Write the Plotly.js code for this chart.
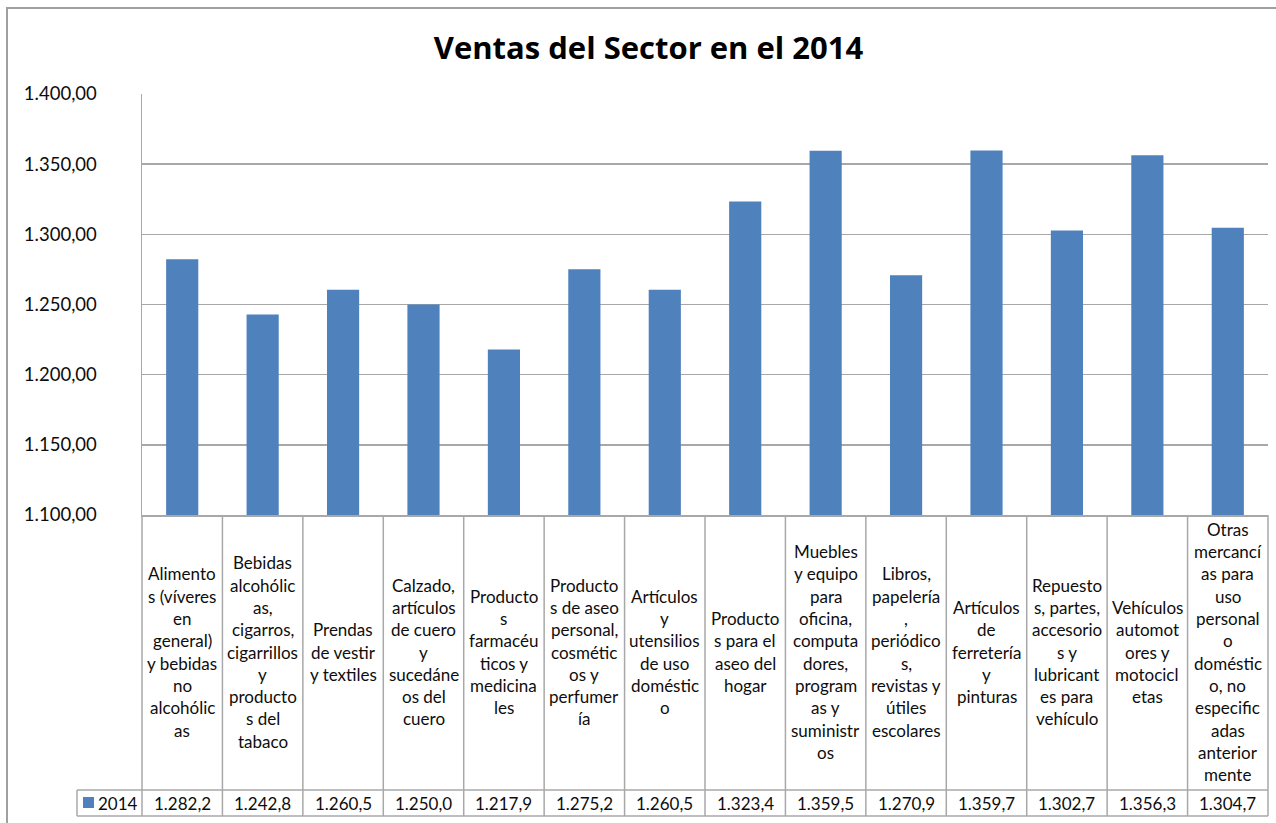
<!DOCTYPE html>
<html>
<head>
<meta charset="utf-8">
<script src="https://cdn.plot.ly/plotly-3.0.1.min.js"></script>
<style>
  html, body { margin: 0; padding: 0; background: #ffffff; }
  #chart { width: 1276px; height: 823px; }
</style>
</head>
<body>
<div id="chart"></div>
<script>
// ---------------- DATA ----------------
const categories = [
  "Alimentos (víveres en general) y bebidas no alcohólicas",
  "Bebidas alcohólicas, cigarros, cigarrillos y productos del tabaco",
  "Prendas de vestir y textiles",
  "Calzado, artículos de cuero y sucedáneos del cuero",
  "Productos farmacéuticos y medicinales",
  "Productos de aseo personal, cosméticos y perfumería",
  "Artículos y utensilios de uso doméstico",
  "Productos para el aseo del hogar",
  "Muebles y equipo para oficina, computadores, programas y suministros",
  "Libros, papelería, periódicos, revistas y útiles escolares",
  "Artículos de ferretería y pinturas",
  "Repuestos, partes, accesorios y lubricantes para vehículo",
  "Vehículos automotores y motocicletas",
  "Otras mercancías para uso personal o doméstico, no especificadas anteriormente"
];

// category labels as wrapped in the table cells
const categoryLabelLines = [
  ["Alimento", "s (víveres", "en", "general)", "y bebidas", "no", "alcohólic", "as"],
  ["Bebidas", "alcohólic", "as,", "cigarros,", "cigarrillos", "y", "producto", "s del", "tabaco"],
  ["Prendas", "de vestir", "y textiles"],
  ["Calzado,", "artículos", "de cuero", "y", "sucedáne", "os del", "cuero"],
  ["Producto", "s", "farmacéu", "ticos y", "medicina", "les"],
  ["Producto", "s de aseo", "personal,", "cosmétic", "os y", "perfumer", "ía"],
  ["Artículos", "y", "utensilios", "de uso", "doméstic", "o"],
  ["Producto", "s para el", "aseo del", "hogar"],
  ["Muebles", "y equipo", "para", "oficina,", "computa", "dores,", "program", "as y", "suministr", "os"],
  ["Libros,", "papelería", ",", "periódico", "s,", "revistas y", "útiles", "escolares"],
  ["Artículos", "de", "ferretería", "y", "pinturas"],
  ["Repuesto", "s, partes,", "accesorio", "s y", "lubricant", "es para", "vehículo"],
  ["Vehículos", "automot", "ores y", "motocicl", "etas"],
  ["Otras", "mercancí", "as para", "uso", "personal", "o", "doméstic", "o, no", "especific", "adas", "anterior", "mente"]
];

const seriesName = "2014";
const values2014 = [1282.2, 1242.8, 1260.5, 1250.0, 1217.9, 1275.2, 1260.5, 1323.4, 1359.5, 1270.9, 1359.7, 1302.7, 1356.3, 1304.7];

const yTickVals = [1100, 1150, 1200, 1250, 1300, 1350, 1400];
const chartTitle = "Ventas del Sector en el 2014";

// ---------------- LAYOUT GEOMETRY ----------------
const W = 1276, H = 823;
const M = { l: 142, r: 8, t: 94, b: 308 };
const plotW = W - M.l - M.r;
const plotH = H - M.t - M.b;
const px2x = px => (px - M.l) / plotW;
const px2y = py => 1 - (py - M.t) / plotH;

const FONT = "Lato, 'Open Sans', 'Liberation Sans', sans-serif";
const TITLE_FONT = "'Open Sans', Lato, sans-serif";
const TXT = "#0d0d0d";
const LINE = "#a8a8a8";
const BAR = "#4f81bd";
const CELL_SIZE = 17;

function fmtES(v, dec) {
  const parts = v.toFixed(dec).split(".");
  parts[0] = parts[0].replace(/\B(?=(\d{3})+(?!\d))/g, ".");
  return parts.join(",");
}

const N = categories.length;
const tableTopPx = 515, rowTopPx = 790, rowBotPx = 816, keyLeftPx = 77;
const cellCenterPx = 652, lineStepPx = 22.3, rowCenterPx = 803;

const shapes = [];
const annotations = [];

// outer chart frame
shapes.push({ type: "rect", xref: "paper", yref: "paper",
  x0: px2x(7), x1: px2x(1300), y0: px2y(840), y1: px2y(8),
  line: { color: "#a0a0a0", width: 2 }, fillcolor: "rgba(0,0,0,0)" });

// table vertical lines at category boundaries
for (let i = 0; i <= N; i++) {
  shapes.push({ type: "line", xref: "paper", yref: "paper",
    x0: i / N, x1: i / N, y0: px2y(rowBotPx), y1: px2y(tableTopPx),
    line: { color: LINE, width: 1.5 } });
}
// table horizontal lines (data row)
[rowTopPx, rowBotPx].forEach(py => {
  shapes.push({ type: "line", xref: "paper", yref: "paper",
    x0: px2x(keyLeftPx), x1: 1, y0: px2y(py), y1: px2y(py),
    line: { color: LINE, width: 1.5 } });
});
shapes.push({ type: "line", xref: "paper", yref: "paper",
  x0: px2x(keyLeftPx), x1: px2x(keyLeftPx), y0: px2y(rowBotPx), y1: px2y(rowTopPx),
  line: { color: LINE, width: 1.5 } });
// legend key in data row
shapes.push({ type: "rect", xref: "paper", yref: "paper",
  x0: px2x(83), x1: px2x(94), y0: px2y(808), y1: px2y(797),
  line: { width: 0 }, fillcolor: BAR });

// category labels inside cells
categoryLabelLines.forEach((lines, i) => {
  const n = lines.length;
  lines.forEach((t, j) => {
    const py = cellCenterPx + (j - (n - 1) / 2) * lineStepPx;
    annotations.push({ x: categories[i], xref: "x", y: px2y(py), yref: "paper",
      text: t, showarrow: false, xanchor: "center", yanchor: "middle",
      font: { family: FONT, size: CELL_SIZE, color: TXT } });
  });
});
// data row values
values2014.forEach((v, i) => {
  annotations.push({ x: categories[i], xref: "x", y: px2y(rowCenterPx), yref: "paper",
    text: fmtES(v, 1), showarrow: false, xanchor: "center", yanchor: "middle",
    font: { family: FONT, size: CELL_SIZE, color: TXT } });
});
annotations.push({ x: px2x(96), xref: "paper", y: px2y(rowCenterPx), yref: "paper",
  text: seriesName, showarrow: false, xanchor: "left", yanchor: "middle",
  font: { family: FONT, size: CELL_SIZE, color: TXT } });

const data = [{
  type: "bar",
  name: seriesName,
  x: categories,
  y: values2014,
  marker: { color: BAR, line: { width: 0 } },
  hoverinfo: "y"
}];

const layout = {
  width: W, height: H,
  margin: M,
  paper_bgcolor: "#ffffff",
  plot_bgcolor: "#ffffff",
  separators: ",.",
  showlegend: false,
  bargap: 0.6,
  title: { text: "<b>" + chartTitle + "</b>", x: 648.5 / W, xref: "container", xanchor: "center",
    y: 1 - 48 / H, yref: "container", yanchor: "middle",
    font: { family: TITLE_FONT, size: 31, color: "#000000" } },
  xaxis: {
    type: "category",
    range: [-0.5, N - 0.5],
    showticklabels: false, ticks: "",
    showgrid: false, zeroline: false,
    showline: true, linecolor: LINE, linewidth: 1.5
  },
  yaxis: {
    range: [1100, 1400],
    tickvals: yTickVals,
    tickformat: ",.2f",
    ticks: "",
    ticklabelstandoff: 40,
    showgrid: true, gridcolor: LINE, gridwidth: 1.5,
    zeroline: false,
    showline: true, linecolor: LINE, linewidth: 1.5,
    tickfont: { family: FONT, size: 18.5, color: TXT }
  },
  shapes: shapes,
  annotations: annotations
};

Plotly.newPlot("chart", data, layout, { displayModeBar: false, staticPlot: true });
</script>
</body>
</html>
